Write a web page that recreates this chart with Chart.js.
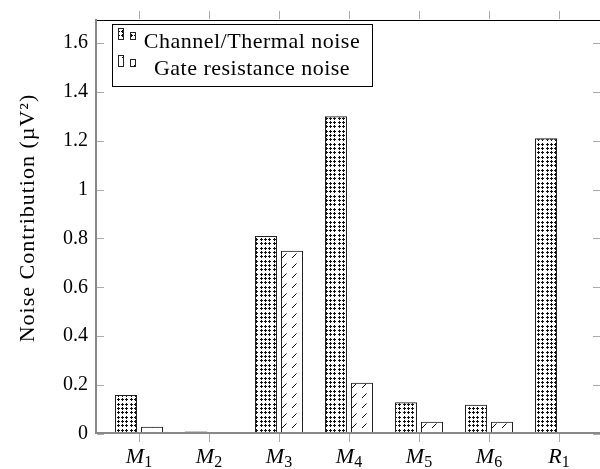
<!DOCTYPE html>
<html>
<head>
<meta charset="utf-8">
<script src="https://cdn.jsdelivr.net/npm/chart.js@4.4.1/dist/chart.umd.min.js"></script>
<style>
  html, body { margin: 0; padding: 0; background: #fff; overflow: hidden; }
  #wrap { position: absolute; left: 0; top: 0; width: 602px; height: 469px; }
</style>
</head>
<body>
<div id="wrap"><canvas id="noiseChart"></canvas></div>
<script>
const categories = ['M1', 'M2', 'M3', 'M4', 'M5', 'M6', 'R1'];
const channelNoise = [0.16, 0.01, 0.81, 1.30, 0.13, 0.12, 1.21];
const gateNoise = [0.03, 0.004, 0.75, 0.21, 0.05, 0.05, 0];
const seriesNames = ['Channel/Thermal noise', 'Gate resistance noise'];
const yTicks = [0, 0.2, 0.4, 0.6, 0.8, 1, 1.2, 1.4, 1.6];
const yTitle = 'Noise Contribution (µV²)';

const SERIF = "'Liberation Serif', 'DejaVu Serif', serif";

// dotted fill: little plus marks on a ~4.3px grid
function dotPattern() {
  const c = document.createElement('canvas');
  c.width = 13; c.height = 13;
  const g = c.getContext('2d');
  g.fillStyle = '#111';
  [1, 5, 9].forEach(px => [1, 5, 9].forEach(py => {
    g.fillRect(px - 1, py, 3, 1);
    g.fillRect(px, py - 1, 1, 3);
  }));
  return g.createPattern(c, 'repeat');
}

// sparse north-east slashes
function hatchPattern() {
  const c = document.createElement('canvas');
  c.width = 10; c.height = 10;
  const g = c.getContext('2d');
  g.strokeStyle = '#000';
  g.lineWidth = 1;
  g.beginPath();
  g.moveTo(2, 8);
  g.lineTo(6.5, 3.5);
  g.stroke();
  return g.createPattern(c, 'repeat');
}

const fills = [dotPattern(), hatchPattern()];

function line(ctx, x1, y1, x2, y2) {
  ctx.beginPath();
  ctx.moveTo(x1, y1);
  ctx.lineTo(x2, y2);
  ctx.stroke();
}

const frame = {
  id: 'frame',
  afterDatasetsDraw(chart) {
    const {ctx, chartArea: a, scales: {x, y}} = chart;
    ctx.save();

    // tick marks
    ctx.strokeStyle = '#aaa';
    ctx.lineWidth = 1;
    yTicks.forEach(v => {
      const py = Math.round(y.getPixelForValue(v)) + 0.5;
      line(ctx, a.left, py, a.left + 7, py);
      line(ctx, a.right - 8, py, a.right, py);
    });
    categories.forEach((c, i) => {
      const px = Math.round(x.getPixelForValue(i)) + 0.5;
      line(ctx, px, a.bottom, px, a.bottom + 8);
      line(ctx, px, a.top - 10, px, a.top - 2);
    });

    // box
    ctx.strokeStyle = '#000';
    line(ctx, a.left - 1, a.top - 0.5, a.right, a.top - 0.5);
    ctx.strokeStyle = '#888';
    ctx.lineWidth = 2;
    line(ctx, a.left - 1, a.top - 2, a.left - 1, a.bottom);
    line(ctx, a.left - 2, a.bottom - 1, a.right, a.bottom - 1);

    // y axis title, rotated
    ctx.save();
    ctx.translate(34, 218);
    ctx.rotate(-Math.PI / 2);
    ctx.fillStyle = '#000';
    ctx.font = `22px ${SERIF}`;
    ctx.letterSpacing = '1px';
    ctx.textAlign = 'center';
    ctx.textBaseline = 'alphabetic';
    ctx.fillText(yTitle, 0, 0);
    ctx.restore();

    // category labels, letter plus subscript
    ctx.fillStyle = '#000';
    ctx.textBaseline = 'alphabetic';
    categories.forEach((c, i) => {
      const px = x.getPixelForValue(i);
      const main = c[0], sub = c.slice(1);
      ctx.font = `italic 22px ${SERIF}`;
      const w1 = ctx.measureText(main).width;
      ctx.font = `16px ${SERIF}`;
      const w2 = ctx.measureText(sub).width;
      const x0 = px - (w1 + w2) / 2;
      ctx.font = `italic 22px ${SERIF}`;
      ctx.textAlign = 'left';
      ctx.fillText(main, x0, a.bottom + 29);
      ctx.font = `16px ${SERIF}`;
      ctx.fillText(sub, x0 + w1, a.bottom + 33);
    });

    // legend
    const lx = 112.5, ly = 24.5, lw = 260, lh = 62;
    ctx.fillStyle = '#fff';
    ctx.fillRect(lx, ly, lw, lh);
    ctx.strokeStyle = '#000';
    ctx.lineWidth = 1;
    ctx.strokeRect(lx, ly, lw, lh);
    seriesNames.forEach((name, k) => {
      const base = 39 + k * 27;
      [[119, 10], [131, 6]].forEach(([bx, bh]) => {
        ctx.fillStyle = fills[k];
        ctx.fillRect(bx, base - bh, 4, bh);
        ctx.strokeStyle = '#222';
        ctx.strokeRect(bx - 0.5, base - bh - 0.5, 5, bh + 1);
      });
      ctx.fillStyle = '#000';
      ctx.font = `22px ${SERIF}`;
      ctx.letterSpacing = '0.5px';
      ctx.textAlign = 'center';
      ctx.fillText(name, 252, base + 9);
      ctx.letterSpacing = '0px';
    });

    ctx.restore();
  }
};

const toPoints = vals => vals.map((v, i) => ({x: i, y: v}));

new Chart(document.getElementById('noiseChart'), {
  type: 'bar',
  data: {
    datasets: [
      {label: seriesNames[0], data: toPoints(channelNoise), backgroundColor: fills[0]},
      {label: seriesNames[1], data: toPoints(gateNoise), backgroundColor: fills[1]}
    ]
  },
  options: {
    responsive: true,
    maintainAspectRatio: false,
    devicePixelRatio: 1,
    animation: false,
    layout: {padding: {top: 12, right: 1, left: 0, bottom: 0}},
    datasets: {
      bar: {
        categoryPercentage: 0.743,
        barPercentage: 0.846,
        borderWidth: 1,
        borderColor: '#222'
      }
    },
    plugins: {
      legend: {display: false},
      tooltip: {enabled: false}
    },
    scales: {
      x: {
        type: 'linear',
        offset: false,
        min: -0.6,
        max: 6.6,
        grid: {display: false, drawTicks: false},
        border: {display: false},
        ticks: {display: false},
        afterBuildTicks: s => { s.ticks = categories.map((c, i) => ({value: i})); },
        afterFit: s => { s.height = 35; }
      },
      y: {
        min: 0,
        max: 1.69,
        grid: {display: false, drawTicks: false},
        border: {display: false},
        afterBuildTicks: s => { s.ticks = yTicks.map(v => ({value: v})); },
        ticks: {
          padding: 9,
          color: '#000',
          font: {family: SERIF, size: 20},
          callback: v => String(Math.round(v * 10) / 10)
        },
        afterFit: s => { s.width = 97; }
      }
    }
  },
  plugins: [frame]
});
</script>
</body>
</html>
